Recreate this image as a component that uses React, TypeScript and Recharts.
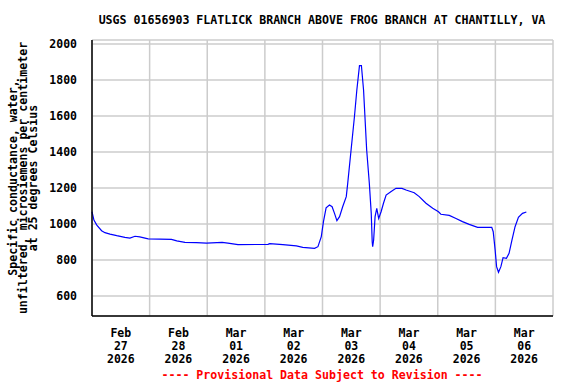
import React from "react";
import { LineChart, Line, XAxis, YAxis, CartesianGrid } from "recharts";

// hours since Feb 27 2026 00:00
const times = [0, 0.8, 2.0, 4.0, 5.4, 7.5, 10.3, 13.7, 15.8, 17.9, 19.9, 23.4, 33.1, 35.3, 38.7, 43.5, 47.7, 54.2, 56.6, 60.8, 73.3, 74.0, 79.5, 85.1, 87.8, 92.7, 94.1, 95.5, 96.4, 97.5, 98.9, 100.0, 101.0, 102.0, 103.1, 104.4, 105.9, 106.5, 107.9, 109.3, 110.3, 111.4, 112.2, 113.1, 114.4, 115.5, 116.3, 116.7, 116.9, 117.3, 117.9, 118.6, 119.4, 120.4, 121.4, 122.5, 124.6, 126.6, 129.1, 130.8, 134.2, 136.3, 139.1, 141.9, 144.3, 145.3, 148.8, 151.6, 154.3, 157.1, 160.6, 166.5, 167.1, 167.9, 168.5, 169.3, 170.3, 171.2, 172.6, 173.7, 174.9, 176.2, 177.6, 179.3, 180.9];
const conductance = [1068, 1022, 994, 963, 952, 944, 935, 926, 922, 932, 928, 917, 915, 906, 898, 896, 894, 898, 894, 885, 887, 891, 885, 878, 870, 865, 874, 930, 1013, 1090, 1105, 1096, 1059, 1019, 1041, 1096, 1152, 1226, 1411, 1596, 1744, 1880, 1880, 1744, 1411, 1226, 1059, 902, 874, 911, 1041, 1087, 1031, 1068, 1115, 1161, 1180, 1198, 1198, 1189, 1174, 1152, 1115, 1087, 1068, 1054, 1048, 1031, 1013, 998, 981, 981, 957, 856, 763, 732, 763, 813, 809, 837, 911, 985, 1037, 1059, 1067];

const labelHours = [12, 36, 60, 84, 108, 132, 156, 180];
const tickMonths = ["Feb", "Feb", "Mar", "Mar", "Mar", "Mar", "Mar", "Mar"];
const tickDays = ["27", "28", "01", "02", "03", "04", "05", "06"];
const tickYears = ["2026", "2026", "2026", "2026", "2026", "2026", "2026", "2026"];
const midnightHours = [24, 48, 72, 96, 120, 144, 168];
const yTicks = [600, 800, 1000, 1200, 1400, 1600, 1800, 2000];

const data = times.map((t, i) => ({ t, v: conductance[i] }));

const FONT = "'DejaVu Sans Mono', monospace";

const XTick = (props: any) => {
  const { x, y, payload } = props;
  const i = labelHours.indexOf(payload.value);
  if (i < 0) return null;
  return (
    <text x={x} y={y} textAnchor="middle" fontFamily={FONT} fontWeight="bold" fontSize={11.5} fill="#000">
      <tspan x={x} dy={13}>{tickMonths[i]}</tspan>
      <tspan x={x} dy={13}>{tickDays[i]}</tspan>
      <tspan x={x} dy={13}>{tickYears[i]}</tspan>
    </text>
  );
};

const YTick = (props: any) => {
  const { x, y, payload } = props;
  return (
    <text x={x} y={y} textAnchor="end" dominantBaseline="central" fontFamily={FONT} fontWeight="bold" fontSize={11.5} fill="#000">
      {payload.value}
    </text>
  );
};

export default function App() {
  return (
    <div style={{ position: "absolute", left: 0, top: 0, width: 576, height: 384, background: "#fff" }}>
      <LineChart width={576} height={384} data={data} margin={{ top: 40, right: 23, bottom: 0, left: 0 }}>
        <CartesianGrid xAxisId="grid" yAxisId="left" stroke="#cccccc" strokeWidth={1.5} />
        <XAxis xAxisId="grid" dataKey="t" type="number" domain={[0, 192]} ticks={midnightHours} hide height={0} />
        <XAxis
          xAxisId="main"
          dataKey="t"
          type="number"
          domain={[0, 192]}
          ticks={labelHours}
          tick={<XTick />}
          tickLine={false}
          axisLine={{ stroke: "#000", strokeWidth: 1.5 }}
          height={68}
          interval={0}
        />
        <XAxis
          xAxisId="top"
          orientation="top"
          dataKey="t"
          type="number"
          domain={[0, 192]}
          tick={false}
          tickLine={false}
          axisLine={{ stroke: "#000", strokeWidth: 1.5 }}
          height={0}
        />
        <YAxis
          yAxisId="left"
          type="number"
          domain={[489, 2022]}
          allowDataOverflow
          ticks={yTicks}
          tick={<YTick />}
          tickLine={false}
          tickMargin={9}
          axisLine={{ stroke: "#000", strokeWidth: 1.5 }}
          width={92}
          interval={0}
        />
        <YAxis
          yAxisId="right"
          orientation="right"
          type="number"
          domain={[489, 2022]}
          tick={false}
          tickLine={false}
          axisLine={{ stroke: "#000", strokeWidth: 1.5 }}
          width={0}
        />
        <Line
          xAxisId="main"
          yAxisId="left"
          dataKey="v"
          type="linear"
          stroke="#0000ff"
          strokeWidth={1.2}
          dot={false}
          isAnimationActive={false}
        />
      </LineChart>
      <svg width={576} height={384} style={{ position: "absolute", left: 0, top: 0, pointerEvents: "none" }}>
        <text x={322} y={24} textAnchor="middle" fontFamily={FONT} fontWeight="bold" fontSize={11.6} fill="#000">
          USGS 01656903 FLATLICK BRANCH ABOVE FROG BRANCH AT CHANTILLY, VA
        </text>
        <g transform="translate(0,178) rotate(-90)" fontFamily={FONT} fontWeight="bold" fontSize={11.6} fill="#000">
          <text x={0} y={17} textAnchor="middle">Specific conductance, water,</text>
          <text x={0} y={27} textAnchor="middle">unfiltered, microsiemens per centimeter</text>
          <text x={0} y={37} textAnchor="middle">at 25 degrees Celsius</text>
        </g>
        <text x={322} y={379} textAnchor="middle" fontFamily={FONT} fontWeight="bold" fontSize={11.6} fill="#ff0000">
          ---- Provisional Data Subject to Revision ----
        </text>
      </svg>
    </div>
  );
}
